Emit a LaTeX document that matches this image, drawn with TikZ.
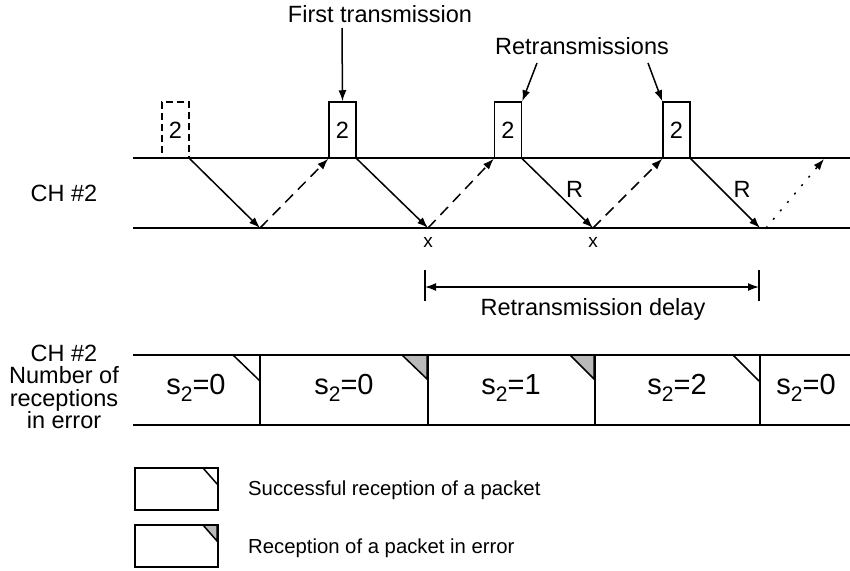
\documentclass[tikz,border=0pt]{standalone}
\usepackage{fontspec}
\setmainfont{Liberation Sans}
\usetikzlibrary{arrows.meta,patterns}
\newcommand{\subtwo}{\raisebox{-7pt}{\fontsize{21}{21}\selectfont 2}}
\tikzset{
  base/.style={line width=1.5pt},
  tip/.style={-{Latex[length=11pt,width=8pt]}},
  lbl/.style={font=\fontsize{23.5}{27}\selectfont, inner sep=0pt},
  small/.style={font=\fontsize{19}{20}\selectfont, inner sep=0pt},
  pkt/.style={draw, line width=1.5pt, minimum width=27pt, minimum height=56pt,
              inner sep=0pt, font=\fontsize{23.5}{27}\selectfont},
  ghost/.style={pkt, dash pattern=on 7pt off 4pt},
  dashtip/.style={base, tip, dash pattern=on 11pt off 7pt},
  dottip/.style={base, tip, dash pattern=on 2pt off 9pt},
  slot/.style={draw, line width=2.5pt},
  slbl/.style={font=\fontsize{29}{32}\selectfont, inner sep=0pt},
  hatch/.style={fill=gray!55, draw, line width=1.5pt},
  leg/.style={font=\fontsize{20.3}{24}\selectfont, inner sep=0pt, anchor=west},
}
\begin{document}
\begin{tikzpicture}[x=1pt,y=-1pt]
\useasboundingbox (0,0) rectangle (850,570);

% ---- channel #2, timing diagram ----
\coordinate (tl) at (133,158);
\coordinate (tr) at (850,158);
\coordinate (bl) at (133,228);
\coordinate (br) at (850,228);
\draw[base] (tl) -- (tr);
\draw[base] (bl) -- (br);
\node[lbl] (ch) at (64,193) {CH \#2};

% packets
\node[ghost] (p0) at (175.5,130) {2};
\node[pkt]   (p1) at (342.5,130) {2};
\node[pkt]   (p2) at (508,130) {2};
\node[pkt]   (p3) at (676.5,130) {2};

% receive points on lower line
\coordinate (r0) at (260,228);
\coordinate (r1) at (428,228);
\coordinate (r2) at (593,228);
\coordinate (r3) at (760,228);
\coordinate (r4) at (766,228);
\coordinate (e4) at (824,159);

\draw[base,tip] (p0.south east) -- (r0);
\draw[dashtip] (r0) -- (p1.south west);
\draw[base,tip] (p1.south east) -- (r1);
\draw[dashtip] (r1) -- (p2.south west);
\draw[base,tip] (p2.south east) -- node[lbl, pos=0.58, anchor=south west, xshift=2pt, yshift=1pt] (R1) {R} (r2);
\draw[dashtip] (r2) -- (p3.south west);
\draw[base,tip] (p3.south east) -- node[lbl, pos=0.58, anchor=south west, xshift=2pt, yshift=1pt] (R2) {R} (r3);
\draw[dottip] (r4) -- (e4);

\node[small] (x1) at (428,242) {x};
\node[small] (x2) at (593,242) {x};

% annotations above
\node[lbl] (ft) at (380,14) {First transmission};
\coordinate (fta) at (342,28);
\draw[base,tip] (fta) -- (p1.north);
\node[lbl] (rt) at (582,46) {Retransmissions};
\coordinate (rta) at (537,63);
\coordinate (rtb) at (648,63);
\draw[base,tip] (rta) -- (p2.north east);
\draw[base,tip] (rtb) -- (p3.north west);

% retransmission delay
\coordinate (d1t) at (425,270);
\coordinate (d1b) at (425,301);
\coordinate (d2t) at (759,270);
\coordinate (d2b) at (759,301);
\draw[base] (d1t) -- (d1b);
\draw[base] (d2t) -- (d2b);
\coordinate (d1) at (425,287);
\coordinate (d2) at (759,287);
\draw[base,{Latex[length=11pt,width=8pt]}-{Latex[length=11pt,width=8pt]}] (d1) -- (d2);
\node[lbl] (dl) at (593,309) {Retransmission delay};

% ---- number of receptions in error ----
\node[lbl, align=center, font=\fontsize{23.5}{22.5}\selectfont] (nl) at (64,387)
  {CH \#2\\Number of\\receptions\\in error};
\coordinate (st) at (133,355);
\coordinate (sb) at (133,425);
\coordinate (se) at (850,355);
\coordinate (sf) at (850,425);
\draw[base] (st) -- (se);
\draw[base] (sb) -- (sf);
\draw[slot] (260,355) rectangle (428,425);
\draw[slot] (428,355) rectangle (595,425);
\draw[slot] (595,355) rectangle (760,425);

% corner marks: plain = success, shaded = error
\draw[base] (233,355) -- (260,381);
\draw[hatch] (402,355) -- (427,355) -- (427,379) -- cycle;
\draw[hatch] (570,355) -- (594,355) -- (594,379) -- cycle;
\draw[base] (733,355) -- (759,381);

\node[slbl] (s1) at (196,388) {s\subtwo=0};
\node[slbl] (s2) at (344,388) {s\subtwo=0};
\node[slbl] (s3) at (511,388) {s\subtwo=1};
\node[slbl] (s4) at (677,388) {s\subtwo=2};
\node[slbl] (s5) at (806,388) {s\subtwo=0};

% ---- legend ----
\draw[slot] (135,468) rectangle (218,510);
\draw[base] (203,468) -- (218,485);
\node[leg] (lg1) at (248,490) {Successful reception of a packet};
\draw[slot] (135,525) rectangle (218,567);
\draw[hatch] (203,525) -- (217,525) -- (217,541) -- cycle;
\node[leg] (lg2) at (248,548) {Reception of a packet in error};
\end{tikzpicture}
\end{document}
